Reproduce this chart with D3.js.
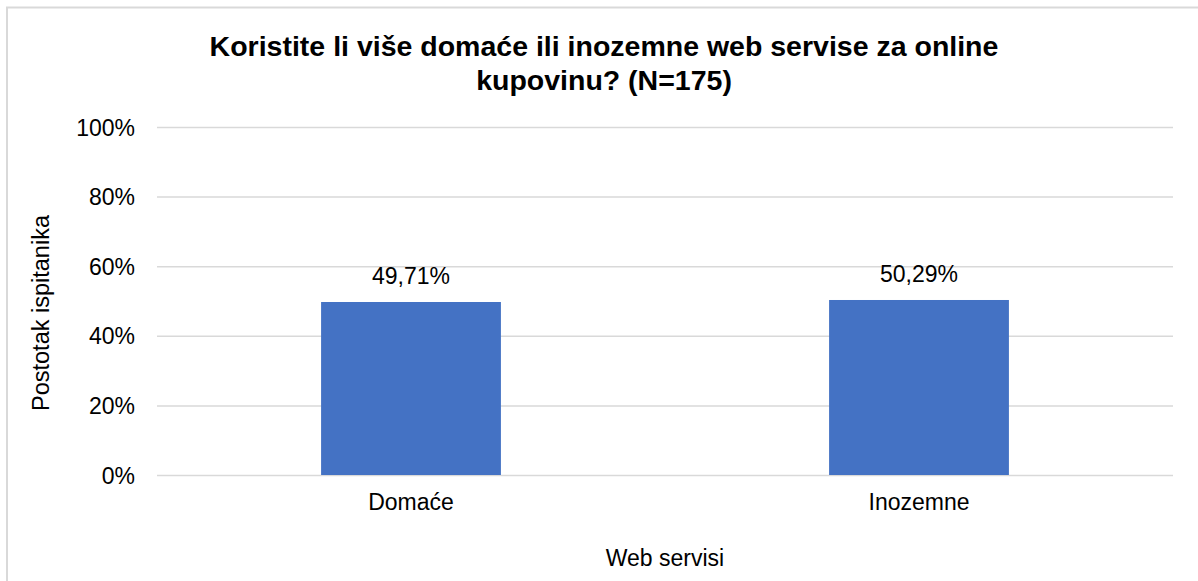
<!DOCTYPE html>
<html>
<head>
<meta charset="utf-8">
<script src="https://cdn.jsdelivr.net/npm/d3@7"></script>
<style>
  body { margin: 0; background: #fff; }
  svg text { font-family: "Liberation Sans", Arial, sans-serif; fill: #000; }
</style>
</head>
<body>
<div id="chart"></div>
<script>
  // data
  var categories = ["Domaće", "Inozemne"];
  var values = [49.71, 50.29];
  var valueLabels = ["49,71%", "50,29%"];
  var yTicks = [0, 20, 40, 60, 80, 100];
  var titleLines = ["Koristite li više domaće ili inozemne web servise za online", "kupovinu? (N=175)"];

  var W = 1198, H = 581;
  var m = {top: 127, right: 25, bottom: 106, left: 157};

  var svg = d3.select("#chart").append("svg")
    .attr("width", W)
    .attr("height", H);

  // chart frame
  svg.append("rect")
    .attr("x", 7).attr("y", 7.5)
    .attr("width", W + 20).attr("height", H + 20)
    .attr("fill", "#fff")
    .attr("stroke", "#d9d9d9")
    .attr("stroke-width", 2);

  var x = d3.scaleBand().domain(categories)
    .range([m.left, W - m.right])
    .paddingInner(0.646).paddingOuter(0.323);

  var y = d3.scaleLinear().domain([0, 100]).range([H - m.bottom, m.top]);

  // gridlines + tick labels
  var yAxis = svg.append("g")
    .attr("transform", "translate(" + m.left + ",0)")
    .call(d3.axisLeft(y).tickValues(yTicks)
      .tickFormat(function (d) { return d + "%"; })
      .tickSize(-(W - m.right - m.left))
      .tickPadding(22));
  yAxis.select(".domain").remove();
  yAxis.selectAll(".tick line").attr("stroke", "#d9d9d9").attr("stroke-width", 1.5);
  yAxis.selectAll(".tick text").style("font-size", "23px").attr("dy", "0.35em");

  // bars
  svg.append("g").selectAll("rect")
    .data(values)
    .enter().append("rect")
    .attr("x", function (d, i) { return x(categories[i]); })
    .attr("y", function (d) { return y(d); })
    .attr("width", x.bandwidth())
    .attr("height", function (d) { return y(0) - y(d); })
    .attr("fill", "#4472c4");

  // value labels
  svg.append("g").selectAll("text")
    .data(values)
    .enter().append("text")
    .attr("x", function (d, i) { return x(categories[i]) + x.bandwidth() / 2; })
    .attr("y", function (d) { return y(d) - 18; })
    .attr("text-anchor", "middle")
    .style("font-size", "23px")
    .text(function (d, i) { return valueLabels[i]; });

  // category labels
  var xAxis = svg.append("g")
    .attr("transform", "translate(0," + y(0) + ")")
    .call(d3.axisBottom(x).tickSize(0).tickPadding(19));
  xAxis.select(".domain").remove();
  xAxis.selectAll(".tick text").style("font-size", "23px");

  // title
  svg.append("g").selectAll("text")
    .data(titleLines)
    .enter().append("text")
    .attr("x", 604)
    .attr("y", function (d, i) { return 56 + i * 34; })
    .attr("text-anchor", "middle")
    .style("font-size", "28.5px")
    .style("font-weight", "bold")
    .text(function (d) { return d; });

  // axis titles
  svg.append("text")
    .attr("x", (m.left + W - m.right) / 2)
    .attr("y", 566)
    .attr("text-anchor", "middle")
    .style("font-size", "23px")
    .text("Web servisi");

  svg.append("text")
    .attr("transform", "translate(49,313) rotate(-90)")
    .attr("text-anchor", "middle")
    .style("font-size", "23.5px")
    .text("Postotak ispitanika");
</script>
</body>
</html>
